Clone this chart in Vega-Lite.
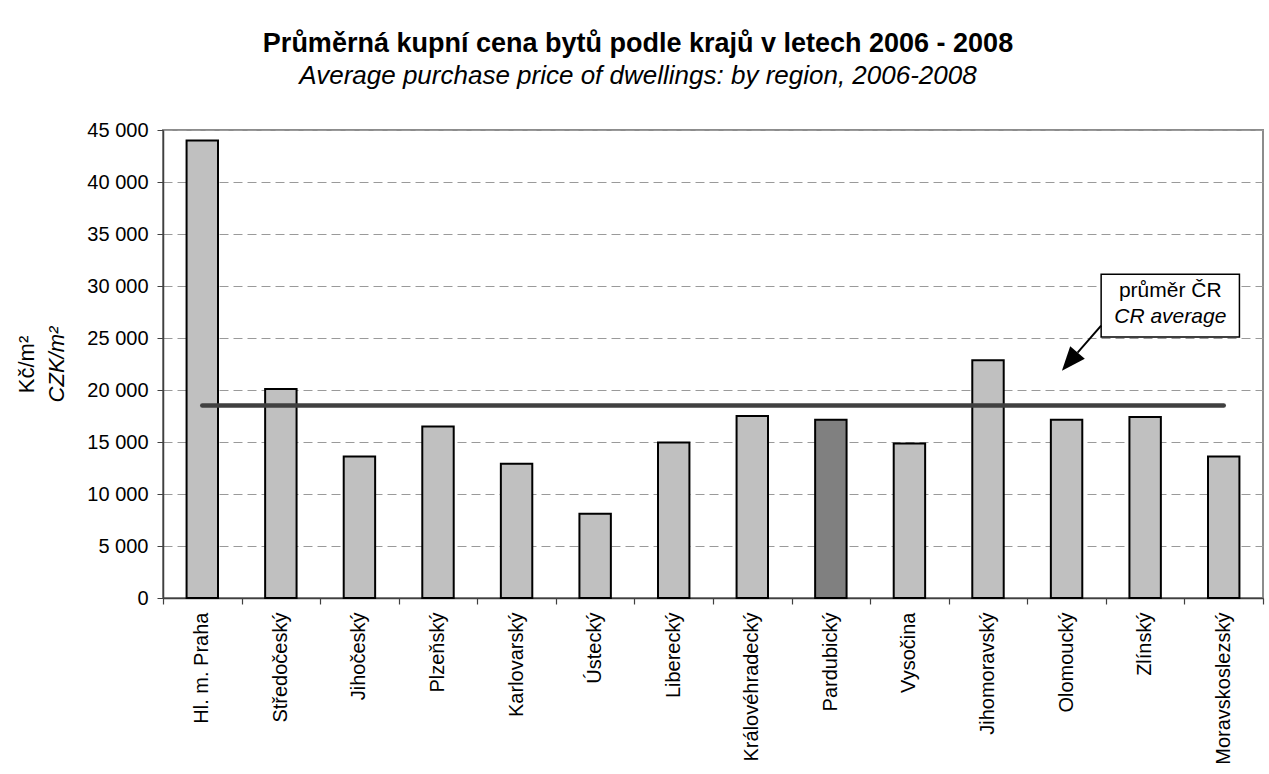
{
  "$schema": "https://vega.github.io/schema/vega-lite/v6.json",
  "width": 1100,
  "height": 468,
  "autosize": "none",
  "padding": {"left": 163, "top": 130, "right": 6, "bottom": 176},
  "background": "white",
  "config": {
    "font": "Liberation Sans",
    "view": {"stroke": "#8c8c8c", "strokeWidth": 2},
    "axis": {"labelColor": "black", "titleColor": "black", "labelFont": "Liberation Sans", "titleFont": "Liberation Sans"}
  },
  "title": {
    "text": "Průměrná kupní cena bytů podle krajů v letech 2006 - 2008",
    "subtitle": "Average purchase price of dwellings: by region, 2006-2008",
    "anchor": "middle",
    "dx": -75,
    "offset": 30,
    "font": "Liberation Sans",
    "fontSize": 27,
    "fontWeight": "bold",
    "color": "black",
    "subtitleFont": "Liberation Sans",
    "subtitleFontSize": 26,
    "subtitleFontStyle": "italic",
    "subtitleColor": "black",
    "subtitlePadding": 5
  },
  "datasets": {
    "bars": [
      {"region": "Hl. m. Praha", "price": 44000},
      {"region": "Středočeský", "price": 20100},
      {"region": "Jihočeský", "price": 13600},
      {"region": "Plzeňský", "price": 16500},
      {"region": "Karlovarský", "price": 12900},
      {"region": "Ústecký", "price": 8100},
      {"region": "Liberecký", "price": 14950},
      {"region": "Královéhradecký", "price": 17500},
      {"region": "Pardubický", "price": 17150},
      {"region": "Vysočina", "price": 14850},
      {"region": "Jihomoravský", "price": 22850},
      {"region": "Olomoucký", "price": 17150},
      {"region": "Zlínský", "price": 17400},
      {"region": "Moravskoslezský", "price": 13600}
    ],
    "avg": [{"ax": 0.5, "ax2": 13.5, "ay": 18500}],
    "box": [{"ax": 11.94, "ax2": 13.70, "ay": 31130, "ay2": 25100}],
    "shaft": [{"ax": 11.94, "ay": 26190, "ax2": 11.64, "ay2": 23590}],
    "head": [{"ax": 11.54, "ay": 22720}],
    "line1": [{"ax": 12.82, "ay": 28980, "label": "průměr ČR"}],
    "line2": [{"ax": 12.82, "ay": 26480, "label": "CR average"}]
  },
  "layer": [
    {
      "data": {"name": "bars"},
      "mark": {"type": "bar", "stroke": "black", "strokeWidth": 2},
      "encoding": {
        "x": {
          "field": "region",
          "type": "nominal",
          "sort": null,
          "scale": {"paddingInner": 0.6, "paddingOuter": 0.3},
          "axis": {
            "title": null,
            "labelAngle": -90,
            "labelAlign": "right",
            "labelBaseline": "middle",
            "labelFontSize": 20,
            "labelPadding": 14,
            "ticks": false,
            "domainColor": "#404040",
            "domainWidth": 1.5,
            "labelOverlap": false
          }
        },
        "y": {
          "field": "price",
          "type": "quantitative",
          "scale": {"domain": [0, 45000], "nice": false},
          "axis": {
            "title": "Kč/m²",
            "titleX": -125,
            "titleFontSize": 22,
            "titleFontWeight": "normal",
            "values": [0, 5000, 10000, 15000, 20000, 25000, 30000, 35000, 40000, 45000],
            "labelExpr": "replace(format(datum.value, ','), ',', ' ')",
            "labelFontSize": 20,
            "labelPadding": 9,
            "tickSize": 6,
            "tickColor": "#404040",
            "domainColor": "#404040",
            "domainWidth": 1.5,
            "grid": true,
            "gridDash": [9, 5],
            "gridColor": "#9a9a9a",
            "gridWidth": 1
          }
        },
        "color": {
          "condition": {"test": "datum.region === 'Pardubický'", "value": "#808080"},
          "value": "#C0C0C0"
        }
      }
    },
    {
      "encoding": {
        "x": {
          "field": "ax",
          "type": "quantitative",
          "scale": {"domain": [0, 14], "nice": false, "zero": false},
          "axis": {
            "orient": "bottom",
            "title": null,
            "values": [0, 1, 2, 3, 4, 5, 6, 7, 8, 9, 10, 11, 12, 13, 14],
            "labels": false,
            "domain": false,
            "grid": false,
            "tickSize": 6,
            "tickColor": "#404040",
            "tickWidth": 1.2
          }
        },
        "y": {
          "field": "ay",
          "type": "quantitative",
          "scale": {"domain": [0, 45000], "nice": false},
          "axis": {
            "orient": "left",
            "title": "CZK/m²",
            "titleX": -95,
            "titleFontSize": 22,
            "titleFontWeight": "normal",
            "titleFontStyle": "italic",
            "labels": false,
            "ticks": false,
            "domain": false,
            "grid": false
          }
        }
      },
      "layer": [
        {
          "data": {"name": "avg"},
          "mark": {"type": "rule", "stroke": "#404040", "strokeWidth": 4.5, "strokeCap": "round"},
          "encoding": {"x2": {"field": "ax2"}}
        },
        {
          "data": {"name": "box"},
          "mark": {"type": "rect", "fill": "white", "stroke": "black", "strokeWidth": 1.5},
          "encoding": {"x2": {"field": "ax2"}, "y2": {"field": "ay2"}}
        },
        {
          "data": {"name": "shaft"},
          "mark": {"type": "rule", "stroke": "black", "strokeWidth": 2},
          "encoding": {"x2": {"field": "ax2"}, "y2": {"field": "ay2"}}
        },
        {
          "data": {"name": "head"},
          "mark": {"type": "point", "shape": "M0,-1L-0.8,1L0.8,1Z", "filled": true, "color": "black", "opacity": 1, "size": 576, "angle": 220.5}
        },
        {
          "data": {"name": "line1"},
          "mark": {"type": "text", "fontSize": 21, "align": "center", "baseline": "alphabetic", "color": "black"},
          "encoding": {"text": {"field": "label"}}
        },
        {
          "data": {"name": "line2"},
          "mark": {"type": "text", "fontSize": 21, "fontStyle": "italic", "align": "center", "baseline": "alphabetic", "color": "black"},
          "encoding": {"text": {"field": "label"}}
        }
      ]
    }
  ],
  "resolve": {"scale": {"x": "independent"}, "axis": {"y": "independent"}}
}
